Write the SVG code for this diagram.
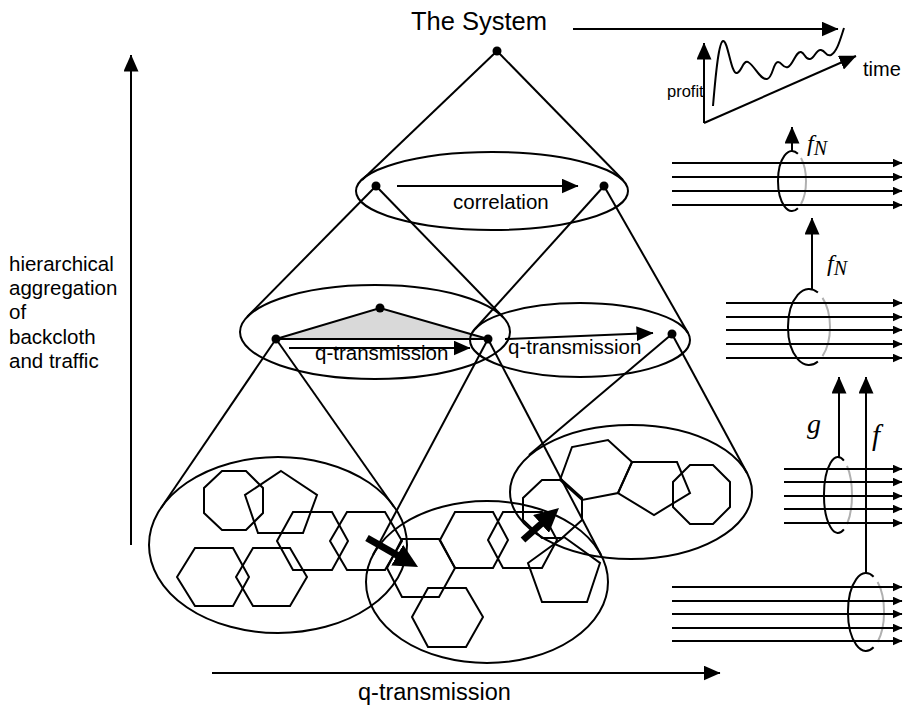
<svg xmlns="http://www.w3.org/2000/svg" width="903" height="708" viewBox="0 0 903 708">
<defs>
<marker id="ah" markerUnits="userSpaceOnUse" markerWidth="17" markerHeight="15" refX="16.5" refY="7.5" orient="auto"><path d="M0,0 L17,7.5 L0,15 z" fill="#000"/></marker>
<marker id="as" markerUnits="userSpaceOnUse" markerWidth="10" markerHeight="9" refX="9.5" refY="4.5" orient="auto"><path d="M0,0 L10,4.5 L0,9 z" fill="#000"/></marker>
<marker id="ab" markerUnits="userSpaceOnUse" markerWidth="24" markerHeight="24" refX="12" refY="12" orient="auto"><path d="M0,0 L24,12 L0,24 z" fill="#000"/></marker>
</defs>
<style>
.s{fill:none;stroke:#000;stroke-width:2}
.p{fill:none;stroke:#000;stroke-width:2;stroke-linejoin:miter}
.a{fill:none;stroke:#000;stroke-width:2;marker-end:url(#ah)}
.b{fill:none;stroke:#000;stroke-width:2;marker-end:url(#as)}
.t{fill:none;stroke:#000;stroke-width:7;marker-end:url(#ab)}
.g{fill:none;stroke:#b0b0b0;stroke-width:2}
.d{fill:#000}
.tx{font-family:"Liberation Sans",Arial,sans-serif;fill:#000}
.it{font-family:"Liberation Serif","Times New Roman",serif;font-style:italic;fill:#000}
</style>

<g id="axes">
<line class="a" x1="131" y1="545" x2="131" y2="55"/>
<line class="a" x1="212" y1="673" x2="720" y2="673"/>
<text class="tx" x="358" y="700" font-size="23.5">q-transmission</text>
<text class="tx" font-size="20.5"><tspan x="9" y="271">hierarchical</tspan><tspan x="9" y="295">aggregation</tspan><tspan x="9" y="319">of</tspan><tspan x="9" y="344">backcloth</tspan><tspan x="9" y="368">and traffic</tspan></text>
</g>

<g id="connectors">
<line class="s" x1="497" y1="51" x2="362" y2="180"/>
<line class="s" x1="497" y1="51" x2="623" y2="180"/>
<line class="s" x1="376" y1="186" x2="247" y2="317"/>
<line class="s" x1="376" y1="186" x2="503" y2="317"/>
<line class="s" x1="604" y1="186" x2="475" y2="329"/>
<line class="s" x1="604" y1="186" x2="688" y2="333"/>
<line class="s" x1="276" y1="339" x2="161" y2="508"/>
<line class="s" x1="276" y1="339" x2="394" y2="507"/>
<line class="s" x1="488" y1="339" x2="373" y2="555"/>
<line class="s" x1="488" y1="339" x2="601" y2="555"/>
<line class="s" x1="672" y1="334" x2="529" y2="455"/>
<line class="s" x1="672" y1="334" x2="747" y2="473"/>
</g>

<g id="system">
<text class="tx" x="411" y="30" font-size="25.5">The System</text>
<circle class="d" cx="497" cy="51" r="4.5"/>
<line class="a" x1="573" y1="29" x2="838" y2="29"/>
</g>

<g id="profit-graph">
<line class="a" x1="704" y1="123" x2="704" y2="43"/>
<line class="a" x1="704" y1="123" x2="856" y2="56"/>
<path class="s" d="M713,106 C716,70 719,42 723,41 C728,40 731,75 737,73 C742,71 743,60 748,62 C755,66 760,80 767,79 C773,78 773,62 778,62 C782,62 783,69 788,67 C793,65 796,51 801,52 C805,53 805,60 810,59 C815,58 816,49 821,50 C826,51 826,57 831,55 C837,52 840,40 844,28"/>
<text class="tx" x="667" y="97" font-size="16.5">profit</text>
<text class="tx" x="863" y="76" font-size="20">time</text>
</g>

<g id="level2">
<ellipse class="s" cx="492" cy="191" rx="136" ry="39"/>
<circle class="d" cx="376" cy="186" r="4.5"/>
<circle class="d" cx="604" cy="186" r="4.5"/>
<line class="a" x1="397" y1="186" x2="578" y2="186"/>
<text class="tx" x="453" y="209" font-size="20.5">correlation</text>
</g>

<g id="level1-left">
<polygon points="276,339 380,308 488,339" fill="#d9d9d9" stroke="#000" stroke-width="2"/>
<ellipse class="s" cx="375" cy="332" rx="135" ry="47"/>
<circle class="d" cx="276" cy="339" r="4.5"/>
<circle class="d" cx="380" cy="308" r="4.5"/>
<line class="a" x1="289" y1="348" x2="470" y2="348"/>
<text class="tx" x="315" y="360" font-size="20.5">q-transmission</text>
</g>

<g id="level1-right">
<ellipse class="s" cx="580" cy="340" rx="110" ry="37"/>
<circle class="d" cx="488" cy="339" r="4.5"/>
<circle class="d" cx="672" cy="334" r="4.5"/>
<line class="a" x1="505" y1="339" x2="653" y2="333"/>
<text class="tx" x="508" y="354" font-size="20.5">q-transmission</text>
</g>

<g id="level0-left">
<ellipse class="s" cx="278" cy="545" rx="129" ry="88"/>
<polygon class="p" points="222,471 246,471 263,488 263,513 246,530 222,530 204,513 204,488"/>
<polygon class="p" points="281,471 317,495 303,533 258,533 245,495"/>
<polygon class="p" points="277,541 293,512 332,512 348,541 332,570 293,570"/>
<polygon class="p" points="330,541 347,512 385,512 402,541 385,570 347,570"/>
<polygon class="p" points="177,577 195,548 233,548 249,577 233,606 195,606"/>
<polygon class="p" points="236,577 253,548 290,548 307,577 290,606 253,606"/>
</g>

<g id="level0-middle">
<ellipse class="s" cx="487" cy="582" rx="121" ry="81"/>
<polygon class="p" points="387,568 402,539 439,539 455,568 439,597 402,597"/>
<polygon class="p" points="440,540 455,512 493,512 508,540 493,568 455,568"/>
<polygon class="p" points="488,540 503,512 542,512 557,540 542,568 503,568"/>
<polygon class="p" points="412,617 428,588 466,588 483,617 466,647 428,647"/>
<polygon class="p" points="564,537 600,563 587,602 542,602 528,563"/>
</g>

<g id="level0-right">
<ellipse class="s" cx="631" cy="492" rx="121" ry="67"/>
<polygon class="p" points="542,480 562,480 582,498 582,520 562,538 542,538 523,520 523,498"/>
<polygon class="p" points="560,480 572,447 608,440 632,462 618,493 582,500"/>
<polygon class="p" points="632,462 677,462 690,493 654,515 618,493"/>
<polygon class="p" points="690,465 713,465 730,482 730,507 713,524 690,524 673,507 673,482"/>
</g>

<g id="thick-arrows">
<line class="t" x1="367" y1="538" x2="407.6" y2="561.1"/>
<line class="t" x1="523" y1="540" x2="550" y2="516"/>
</g>

<g id="bundle-top">
<path class="g" d="M801,158 A14,30 0 0 1 801,204"/>
<line class="b" x1="672" y1="163" x2="902" y2="163"/>
<line class="b" x1="672" y1="177" x2="902" y2="177"/>
<line class="b" x1="672" y1="191" x2="902" y2="191"/>
<line class="b" x1="672" y1="205" x2="902" y2="205"/>
<path class="s" d="M797.9,153.8 A14,30 0 1 0 797.9,208.2"/>
<line class="a" x1="792" y1="152" x2="792" y2="127"/>
<text class="it" x="807" y="151" font-size="24">f<tspan font-size="20" dy="4">N</tspan></text>
</g>

<g id="bundle-mid">
<path class="g" d="M822.5,297.9 A21,38 0 0 1 822.5,356.1"/>
<line class="b" x1="726" y1="303" x2="902" y2="303"/>
<line class="b" x1="726" y1="317" x2="902" y2="317"/>
<line class="b" x1="726" y1="330" x2="902" y2="330"/>
<line class="b" x1="726" y1="344" x2="902" y2="344"/>
<line class="b" x1="726" y1="358" x2="902" y2="358"/>
<path class="s" d="M817.9,292.6 A21,38 0 1 0 817.9,361.4"/>
<line class="a" x1="812" y1="290" x2="812" y2="218"/>
<text class="it" x="827" y="271" font-size="24">f<tspan font-size="20" dy="4">N</tspan></text>
</g>

<g id="bundle-low">
<path class="g" d="M847,465.9 A14,38 0 0 1 847,524.1"/>
<line class="b" x1="784" y1="469" x2="902" y2="469"/>
<line class="b" x1="784" y1="482" x2="902" y2="482"/>
<line class="b" x1="784" y1="496" x2="902" y2="496"/>
<line class="b" x1="784" y1="509" x2="902" y2="509"/>
<line class="b" x1="784" y1="523" x2="902" y2="523"/>
<path class="s" d="M843.9,460.6 A14,38 0 1 0 843.9,529.4"/>
<line class="a" x1="839" y1="458" x2="839" y2="377"/>
<text class="it" x="807" y="433" font-size="28">g</text>
</g>

<g id="bundle-bottom">
<path class="g" d="M877.6,582.1 A18,39 0 0 1 877.6,641.9"/>
<line class="b" x1="672" y1="587" x2="902" y2="587"/>
<line class="b" x1="672" y1="601" x2="902" y2="601"/>
<line class="b" x1="672" y1="614" x2="902" y2="614"/>
<line class="b" x1="672" y1="628" x2="902" y2="628"/>
<line class="b" x1="672" y1="641" x2="902" y2="641"/>
<path class="s" d="M873.6,576.7 A18,39 0 1 0 873.6,647.3"/>
<line class="a" x1="866" y1="574" x2="866" y2="377"/>
<text class="it" x="872" y="445" font-size="29">f</text>
</g>
</svg>
